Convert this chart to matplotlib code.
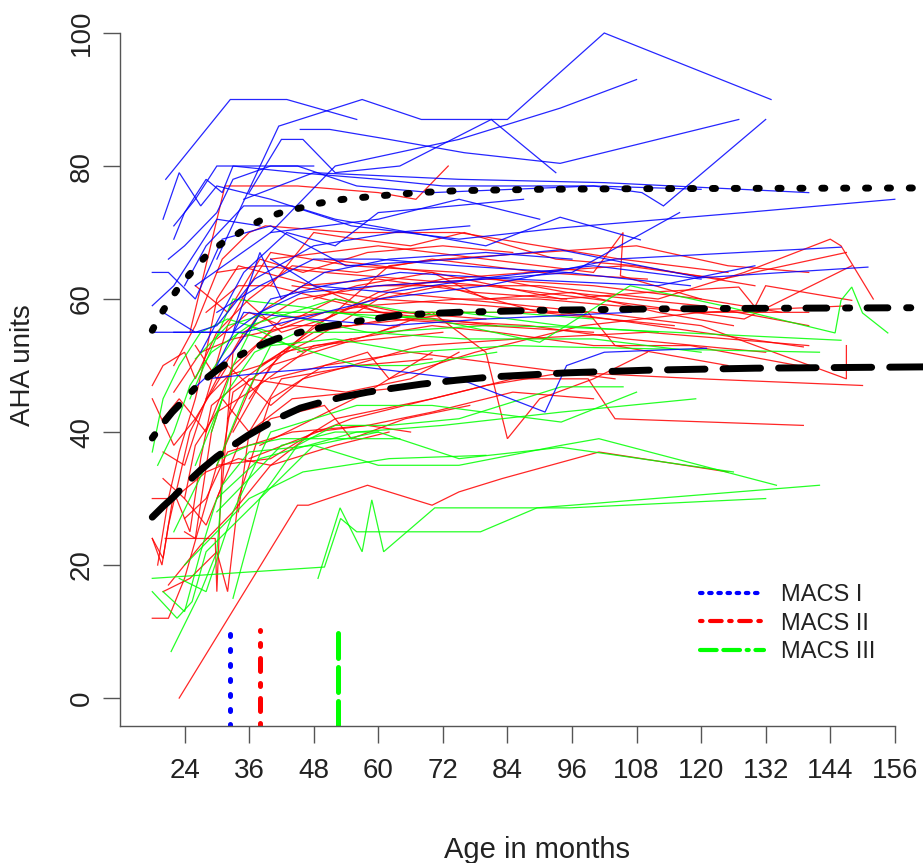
import matplotlib
matplotlib.use("Agg")
import matplotlib.pyplot as plt
from matplotlib.lines import Line2D

plt.rcParams['font.family'] = ['Liberation Sans', 'DejaVu Sans']

# ---------------- data ----------------
x_ticks = [24, 36, 48, 60, 72, 84, 96, 108, 120, 132, 144, 156]
y_ticks = [0, 20, 40, 60, 80, 100]
group_labels = ["MACS I", "MACS II", "MACS III"]
group_colors = ["#0000FF", "#FF0000", "#00FF00"]

# individual trajectories (age in months, AHA units)
macs1_traj = [
    [(20.5, 78), (32.5, 90), (43, 90), (56, 87)],
    [(30, 66), (34, 73), (41.5, 86), (57, 90), (68, 87), (84, 87), (102, 100), (133, 90)],
    [(45.5, 85.5), (51, 85.5), (62, 84), (76, 82), (93.8, 80.4), (127, 87)],
    [(36, 76), (42, 84), (46, 84), (52, 79), (64, 80), (81, 87), (93, 79)],
    [(40, 70), (52, 80), (75, 84), (93.8, 88.7), (108, 93)],
    [(35, 75), (48, 79), (75, 78), (102, 77.5), (140, 76)],
    [(26, 62), (40, 70), (60, 72), (75, 75), (90, 72)],
    [(22, 71), (26, 75), (30, 80), (38, 80), (45, 80), (56, 77), (70, 76), (100, 77), (109, 76), (113, 74), (132, 87)],
    [(22, 69), (24, 73), (28, 78), (31, 76), (33, 80), (45, 79), (60, 78), (72, 77), (85, 77), (100, 77), (120, 76.5)],
    [(20, 72), (23, 79), (27, 74), (30, 77), (40, 75), (55, 71), (75, 69), (94, 70.7), (128, 73), (156, 75)],
    [(18, 64), (21, 64), (26, 60), (31, 69), (40, 71), (54, 65), (75, 66), (93.8, 67.4), (120, 63.2), (151, 64.8)],
    [(22, 55), (35, 55), (45, 57), (60, 60), (80, 62), (104, 66), (146, 67.8)],
    [(28, 48), (40, 49), (55, 50), (75, 48), (91, 43), (95, 50), (102, 52), (121, 52.6)],
    [(18, 55), (33, 55), (38, 58), (46, 61), (60, 62), (80, 63), (96, 64), (116, 73)],
    [(25, 46), (33, 52), (40, 60), (50, 62), (64, 64), (85, 63), (112, 62), (130, 65)],
    [(24, 62), (28, 68), (35, 74), (44, 74), (52, 72), (66, 70), (80, 68), (93.8, 72.3), (108.7, 68.9)],
    [(30, 58), (38, 62), (48, 66), (60, 66), (75, 65), (95, 64), (118, 62)],
    [(20, 58), (26, 55), (30, 56), (37, 63), (48, 68), (63, 70), (77, 71)],
    [(27, 52), (35, 64), (43, 70), (52, 68), (60, 73), (74, 74), (87, 75)],
    [(33, 55), (38, 67), (42, 60), (50, 64), (62, 66), (80, 67), (96, 66)],
    [(18, 59), (22, 62), (30, 72), (38, 71)],
    [(21, 66), (24, 68), (30, 73), (33, 78), (40, 80), (48, 80)],
    [(40, 66), (48, 62), (62, 61), (78, 63), (100, 65), (120, 63)],
    [(30, 50), (35, 58), (47, 57), (62, 56), (80, 57), (107, 58)],
]

macs2_traj = [
    [(23, 0), (45, 29), (47, 29), (58, 32), (70, 29), (75, 31), (83, 33), (101, 37), (125, 34)],
    [(18, 12), (21, 12), (24, 18), (30, 35), (38, 50), (48, 55), (62, 57), (80, 56), (100, 55)],
    [(18, 24), (20, 21), (21, 26), (25, 40), (30, 48), (35, 55), (45, 60), (60, 62), (80, 63), (100, 62), (120, 60)],
    [(18, 47), (20, 50), (24, 52), (26, 48), (30, 55), (36, 60), (44, 65), (56, 64), (70, 66), (90, 64), (110, 63)],
    [(20, 16), (25, 18), (30, 22), (32, 16), (34, 30), (40, 45), (50, 50), (66, 52), (85, 50), (104, 48)],
    [(24, 30), (26, 28), (28, 26), (31, 32), (33, 52), (38, 58), (46, 62), (60, 63), (78, 61), (95, 60)],
    [(25, 55), (31.5, 77), (45, 77), (60, 76), (67, 75), (73, 80)],
    [(22, 50), (26, 56), (31, 66), (36, 70), (39, 71), (55, 70), (75, 70), (90, 68), (105, 66), (125, 64)],
    [(28, 45), (32, 56), (36, 62), (40, 67), (55, 65), (75, 64), (95, 61), (120, 59), (140, 56)],
    [(20, 42), (23, 45), (28, 40), (33, 50), (40, 55), (50, 58), (70, 58), (94, 58), (99, 58), (104, 53), (125, 50)],
    [(30, 35), (40, 36), (52, 42), (70, 45), (85, 48), (94, 48), (99, 48), (104, 42), (139, 41)],
    [(36, 36), (55, 42), (80, 47), (95, 49), (120, 48), (150, 47)],
    [(35, 60), (42, 55), (50, 57), (62, 61), (75, 60), (100, 58), (120, 56), (147, 48), (147, 53)],
    [(40, 66), (60, 68), (80, 66), (100, 64), (105.5, 70), (105, 63.5), (120, 60), (135, 58)],
    [(60, 62), (75, 62), (90, 62), (112, 60), (128, 64), (144, 69), (146, 68), (152, 60)],
    [(30, 64), (38, 65), (50, 64), (65, 63), (80, 62), (100, 60), (128, 57), (148, 65)],
    [(24, 25), (26, 24), (29, 40), (31, 45), (36, 40), (42, 48), (56, 50), (70, 51)],
    [(19, 20), (21, 30), (23, 37), (26, 45), (28, 52), (30, 60), (34, 65), (48, 62), (60, 58), (82, 56)],
    [(18, 45), (22, 38), (26, 42), (32, 50), (40, 44), (46, 48), (55, 50), (68, 53), (86, 54), (110, 55), (140, 53)],
    [(26, 53), (30, 48), (38, 50), (48, 54), (60, 60), (72, 62), (90, 58), (115, 56)],
    [(30, 30), (34, 38), (40, 42), (50, 44), (55, 39), (65, 42), (77, 44)],
    [(32, 42), (36, 48), (44, 47), (54, 46), (66, 48), (75, 52)],
    [(28, 58), (34, 62), (40, 62), (50, 60), (66, 57), (88, 56), (106, 54), (132, 52)],
    [(20, 33), (24, 30), (26, 38), (30, 43), (36, 46), (48, 53), (60, 54), (72, 55)],
    [(33, 40), (40, 50), (48, 56), (60, 61), (72, 63), (88, 64), (106, 65), (124, 63), (147, 67)],
    [(22, 46), (27, 52), (33, 54), (44, 56), (55, 56), (66, 57), (76, 58)],
    [(36, 45), (42, 52), (52, 58), (62, 65), (72, 66), (90, 67), (108, 68), (125, 65), (140, 64)],
    [(40, 62), (48, 70), (56, 69), (66, 68), (76, 70), (93, 66), (108, 65), (130, 62)],
    [(18, 30), (22, 30), (28, 34), (34, 36), (40, 35), (52, 38), (62, 40)],
    [(24, 27), (28, 30), (32, 37), (44, 40), (58, 41), (70, 43), (85, 46), (100, 45)],
    [(45, 52), (55, 54), (70, 56), (82, 55), (100, 53), (118, 53), (138, 50)],
    [(48, 60), (56, 62), (70, 64), (80, 60), (96, 61), (112, 58), (126, 56)],
    [(26, 62), (32, 58), (38, 66), (46, 64), (58, 67), (72, 68), (85, 67)],
    [(30, 54), (36, 58), (42, 56), (52, 60), (64, 58), (80, 57)],
    [(60, 55), (70, 58), (80, 52), (84, 39), (90, 45), (100, 48), (110, 52)],
    [(38, 38), (48, 42), (58, 46), (64, 49), (70, 52)],
    [(34, 28), (36, 40), (44, 45), (56, 46), (68, 47)],
    [(20, 37), (24, 35), (28, 45), (34, 50), (42, 57), (58, 59), (75, 60), (90, 60), (104, 59), (120, 58), (140, 58)],
    [(40, 48), (50, 50), (58, 52), (62, 48), (78, 52), (98, 56), (120, 58), (148, 59)],
    [(50, 66), (70, 64), (94, 60), (110, 61), (127, 61.8), (130, 58.8), (132, 62), (148, 59.8)],
    [(44, 62), (60, 60), (80, 59), (94, 58), (139, 52.8)],
    [(18, 24), (19.8, 20), (22, 31), (25, 25), (27, 36), (29, 44), (35, 48), (42, 52), (55, 54)],
    [(20.4, 24), (29.7, 24), (30, 16), (31, 36), (33, 46), (40, 50), (52, 53), (64, 56)],
    [(21, 17), (27, 23), (33, 28), (40, 35), (48, 40), (58, 41), (66, 40)],
]

macs3_traj = [
    [(21.5, 7), (27, 16), (30, 22), (31, 32), (36, 37), (48, 38), (60, 35), (75, 35), (94, 38), (101, 39), (134, 32)],
    [(18, 16), (22.6, 12), (25.4, 14.5), (28, 22), (38, 30), (48, 38), (60, 40), (75, 36), (94, 37.7), (126, 34)],
    [(18, 18), (50, 19.7), (53, 27), (56, 25), (79, 25), (89.5, 28.6), (96, 29), (142, 32)],
    [(48.8, 18), (52.9, 28.6), (57, 22), (58.8, 29.8), (61, 22), (70.5, 28.6), (95.6, 28.6), (132, 30)],
    [(19, 35), (22, 40), (25, 47), (29, 52), (36, 56), (46, 52)],
    [(25, 45), (33, 60), (46, 58.8), (60, 57), (75, 58), (94, 56), (112, 55)],
    [(20, 16), (24, 13), (27, 22), (30, 30), (38, 36), (56, 40), (72, 41), (94, 43), (119, 45)],
    [(23, 18), (28, 16), (33, 28), (40, 40), (56, 44), (70, 44), (94, 41.5), (108, 46)],
    [(26, 35), (31, 45), (37, 52), (45, 55), (60, 55), (80, 56), (94, 55.8), (146, 53.8)],
    [(29, 40), (33, 50), (38, 58), (50, 58), (70, 57), (90, 53.5), (106.8, 62), (124, 59), (144.9, 54.9),
     (146, 59.8), (148, 61.8), (150, 57.9), (154.7, 54.9)],
    [(30, 35), (35, 45), (40, 53), (52, 54), (66, 52), (85, 53), (94, 52.8), (142, 52)],
    [(22, 25), (28, 35), (36, 38), (42, 39), (56, 39), (64, 39)],
    [(18, 37), (20, 45), (23, 50), (27, 55), (32, 57), (40, 55)],
    [(33, 15), (38, 30), (45, 38), (52, 41), (62, 41), (75, 42), (94, 46.8), (105.5, 46.8)],
    [(24, 20), (30, 25), (36, 30), (46, 34), (62, 36), (80, 36.5)],
    [(36, 56), (44, 58), (52, 60), (66, 58), (84, 58), (100, 57)],
    [(26, 51), (32, 56), (40, 58), (58, 55), (76, 54), (100, 54), (120, 52)],
    [(28, 48), (34, 55), (44, 53), (56, 50), (66, 50), (82, 52)],
    [(30, 28), (36, 33), (42, 38), (52, 40), (60, 40)],
]

# fitted mean curves
mean1_age = [18, 19.5, 21, 22.7, 24.5, 26.5, 28.5, 31, 33.5, 36, 39, 42, 45.5, 49, 52.5, 56, 60, 67.5, 75, 90, 110, 162]
mean1_aha = [55.3, 57.6, 59.5, 61.5, 63.3, 65.2, 66.9, 68.4, 69.6, 70.9, 72.2, 73.0, 73.7, 74.4, 74.9, 75.2, 75.5, 76.0, 76.3, 76.5, 76.6, 76.7]
mean2_age = [18, 20, 21.7, 23.5, 26.5, 30, 33, 36.7, 41, 45.5, 50, 54.8, 60, 64, 74.6, 90, 110, 130, 162]
mean2_aha = [39.1, 41.3, 43.0, 44.5, 47.1, 49.3, 51.0, 52.6, 54.0, 55.0, 55.8, 56.5, 57.1, 57.6, 58.0, 58.3, 58.5, 58.6, 58.7]
mean3_age = [18, 20, 21.9, 24.5, 27, 30, 33, 35.8, 38.6, 42, 45.5, 49.5, 53.5, 58, 62.8, 68, 74.6, 81.3, 95, 110, 130, 162]
mean3_aha = [27.2, 28.8, 30.2, 32.4, 34.3, 36.3, 38.0, 39.5, 40.8, 42.3, 43.6, 44.5, 45.3, 46.0, 46.6, 47.2, 47.8, 48.3, 48.9, 49.3, 49.6, 49.8]

# age at which 90% of the limit is reached (vertical markers)
marker_age = [32.5, 38.0, 52.5]
marker_top = [10.3, 10.3, 10.8]

# ---------------- figure ----------------
W, H = 923, 863
fig = plt.figure(figsize=(W / 100, H / 100), dpi=100)
ax = fig.add_axes([120 / W, (H - 726) / H, 834 / W, 719.6 / H])
ax.set_xlim(12, 167)
ax.set_ylim(-4.2, 104)

for trajs, col in [(macs2_traj, group_colors[1]), (macs3_traj, group_colors[2]), (macs1_traj, group_colors[0])]:
    for t in trajs:
        xs = [p[0] for p in t]
        ys = [p[1] for p in t]
        ax.plot(xs, ys, color=col, lw=0.9, alpha=0.85, solid_joinstyle='miter')

# mean curves
dot_style = (0, (0.45, 2.7))
dotdash_style = (0, (0.6, 2.5, 3.0, 2.7))
longdash_style = (0, (5.4, 2.6))
for xs, ys, ls in [(mean1_age, mean1_aha, dot_style),
                   (mean2_age, mean2_aha, dotdash_style),
                   (mean3_age, mean3_aha, longdash_style)]:
    ax.plot(xs, ys, color='black', lw=5.0, linestyle=ls, dash_capstyle='round', clip_on=False)

# vertical markers
v_styles = [(0, (0.4, 2.6)), (0, (0.6, 2.4, 2.6, 2.4)), (0, (5.0, 1.8))]
for a, top, col, ls in zip(marker_age, marker_top, group_colors, v_styles):
    ax.plot([a, a], [-4.2, top], color=col, lw=3.6, linestyle=ls, dash_capstyle='round')

# axes styling
for s in ['top', 'right']:
    ax.spines[s].set_visible(False)
ax.spines['left'].set_bounds(-4.2, 100)
ax.spines['bottom'].set_bounds(12, 156)
for s in ['left', 'bottom']:
    ax.spines[s].set_color('#555555')
    ax.spines[s].set_linewidth(1.0)

ax.set_xticks(x_ticks)
ax.set_yticks(y_ticks)
ax.tick_params(axis='both', direction='out', length=12, width=1.0, color='#555555',
               labelsize=20, labelcolor='#222222')
ax.tick_params(axis='x', pad=11)
ax.tick_params(axis='y', pad=6)
plt.setp(ax.get_yticklabels(), rotation=90, va='center')

fig.text(23 / W, 1 - 365 / H, 'AHA units', rotation=90, ha='center', va='center',
         fontsize=20, color='#222222')
fig.text(537 / W, 1 - 850 / H, 'Age in months', ha='center', va='center',
         fontsize=21, color='#222222')

# legend
handles = [Line2D([0], [0], color=group_colors[0], lw=3, linestyle=(0, (0.6, 1.6)), dash_capstyle='round'),
           Line2D([0], [0], color=group_colors[1], lw=3, linestyle=(0, (0.6, 1.8, 2.8, 1.8)), dash_capstyle='round'),
           Line2D([0], [0], color=group_colors[2], lw=3, linestyle=(0, (4.0, 1.6, 4.0, 1.6, 0.5, 1.6)), dash_capstyle='round')]
leg = ax.legend(handles, group_labels, loc='upper left', frameon=False, fontsize=17,
                handlelength=2.7, handletextpad=0.75, labelspacing=0.28, borderpad=0, borderaxespad=0,
                bbox_to_anchor=(700 / W, 1 - 584 / H), bbox_transform=fig.transFigure)
for t in leg.get_texts():
    t.set_color('#222222')

fig.savefig('out.png', dpi=100)
